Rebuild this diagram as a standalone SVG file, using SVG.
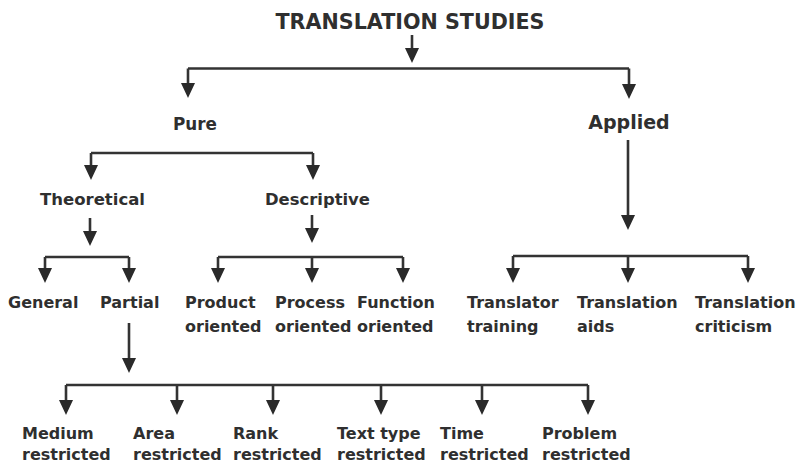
<svg xmlns="http://www.w3.org/2000/svg" width="800" height="464" viewBox="0 0 800 464">
<style>
text{font-family:"DejaVu Sans","Liberation Sans",sans-serif;font-weight:bold;fill:#2f2f2f}
.l{font-size:16px}
.c{fill:none;stroke:#333;stroke-width:2.6}
</style>
<defs>
<marker id="ah" markerUnits="userSpaceOnUse" viewBox="0 -8 16 16" markerWidth="16" markerHeight="16" refX="11" refY="0" orient="auto">
<path d="M0,-7 L15,0 L0,7 z" fill="#2a2a2a"/>
</marker>
</defs>
<rect width="800" height="464" fill="#fff"/>
<g id="connectors" class="c">
<path d="M412,35 V59" marker-end="url(#ah)"/>
<path d="M188,68.5 H629"/>
<path d="M188,68.5 V94" marker-end="url(#ah)"/>
<path d="M629,68.5 V95" marker-end="url(#ah)"/>
<path d="M91,153 H313"/>
<path d="M91,153 V176" marker-end="url(#ah)"/>
<path d="M313,153 V176" marker-end="url(#ah)"/>
<path d="M90,218 V242" marker-end="url(#ah)"/>
<path d="M45,257 H129"/>
<path d="M45,257 V279" marker-end="url(#ah)"/>
<path d="M129,257 V279" marker-end="url(#ah)"/>
<path d="M312,215 V239" marker-end="url(#ah)"/>
<path d="M218,257 H403"/>
<path d="M218,257 V279" marker-end="url(#ah)"/>
<path d="M312,257 V279" marker-end="url(#ah)"/>
<path d="M403,257 V279" marker-end="url(#ah)"/>
<path d="M628,140 V226" marker-end="url(#ah)"/>
<path d="M513,256 H748"/>
<path d="M513,256 V279" marker-end="url(#ah)"/>
<path d="M628,256 V279" marker-end="url(#ah)"/>
<path d="M748,256 V279" marker-end="url(#ah)"/>
<path d="M129,323 V369" marker-end="url(#ah)"/>
<path d="M66,385 H588"/>
<path d="M66,385 V411" marker-end="url(#ah)"/>
<path d="M177,385 V411" marker-end="url(#ah)"/>
<path d="M273,385 V411" marker-end="url(#ah)"/>
<path d="M381,385 V411" marker-end="url(#ah)"/>
<path d="M482,385 V411" marker-end="url(#ah)"/>
<path d="M588,385 V411" marker-end="url(#ah)"/>
</g>
<g id="translation-studies"><text x="410" y="29" font-size="21" text-anchor="middle" textLength="269" lengthAdjust="spacingAndGlyphs">TRANSLATION STUDIES</text></g>
<g id="pure"><text x="195" y="130" font-size="16.8" text-anchor="middle">Pure</text></g>
<g id="applied"><text x="629" y="129" font-size="19" text-anchor="middle">Applied</text></g>
<g id="theoretical"><text x="40" y="205" font-size="16.5">Theoretical</text></g>
<g id="descriptive"><text x="265" y="205" font-size="16.4">Descriptive</text></g>
<g id="general"><text class="l" x="8" y="308">General</text></g>
<g id="partial"><text class="l" x="100" y="308">Partial</text></g>
<g id="product"><text class="l" x="185" y="308">Product</text><text class="l" x="185" y="332">oriented</text></g>
<g id="process"><text class="l" x="275" y="308">Process</text><text class="l" x="275" y="332">oriented</text></g>
<g id="function"><text class="l" x="357" y="308">Function</text><text class="l" x="357" y="332">oriented</text></g>
<g id="translator-training"><text class="l" x="467" y="308">Translator</text><text class="l" x="467" y="332">training</text></g>
<g id="translation-aids"><text class="l" x="577" y="308">Translation</text><text class="l" x="577" y="332">aids</text></g>
<g id="translation-criticism"><text class="l" x="695" y="308">Translation</text><text class="l" x="695" y="332">criticism</text></g>
<g id="medium"><text class="l" x="22" y="439">Medium</text><text class="l" x="22" y="460">restricted</text></g>
<g id="area"><text class="l" x="133" y="439">Area</text><text class="l" x="133" y="460">restricted</text></g>
<g id="rank"><text class="l" x="233" y="439">Rank</text><text class="l" x="233" y="460">restricted</text></g>
<g id="text-type"><text class="l" x="337" y="439">Text type</text><text class="l" x="337" y="460">restricted</text></g>
<g id="time"><text class="l" x="440" y="439">Time</text><text class="l" x="440" y="460">restricted</text></g>
<g id="problem"><text class="l" x="542" y="439">Problem</text><text class="l" x="542" y="460">restricted</text></g>
</svg>
